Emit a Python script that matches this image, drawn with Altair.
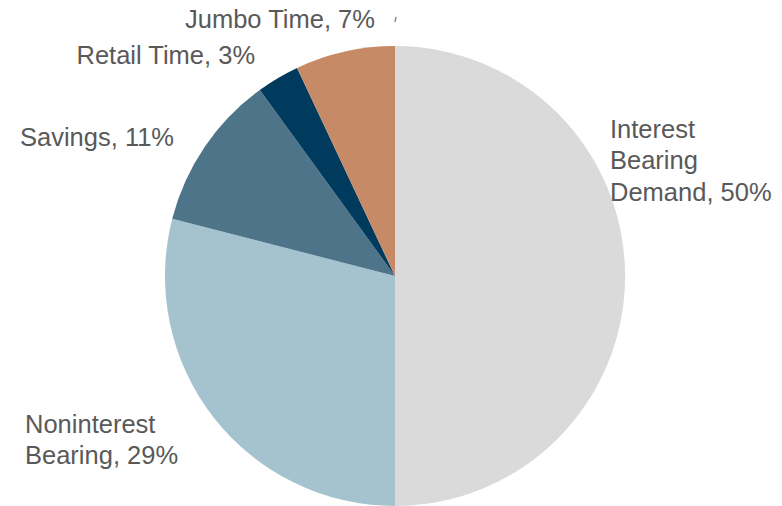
import altair as alt
import pandas as pd

categories = ["Interest Bearing Demand", "Noninterest Bearing", "Savings", "Retail Time", "Jumbo Time"]
shares = [50, 29, 11, 3, 7]
colors = ["#DADADA", "#A5C3CE", "#4E7489", "#003A5D", "#C68B66"]

df = pd.DataFrame({"category": categories, "share": shares, "order": list(range(len(categories)))})

CX, CY, R = 395, 276, 230
TEXT_COLOR = "#595959"
FONT = "Liberation Sans"
FS = 25.5

pie = alt.Chart(df).mark_arc(outerRadius=R).encode(
    theta=alt.Theta("share:Q", stack=True),
    color=alt.Color("category:N", scale=alt.Scale(domain=categories, range=colors), legend=None),
    order=alt.Order("order:Q"),
    x=alt.value(CX),
    y=alt.value(CY),
)

def lbl(i):
    return f"{categories[i]}, {shares[i]}%"

label_specs = [
    (["Interest", "Bearing", f"Demand, {shares[0]}%"], 610, 137.5),
    (["Noninterest", f"Bearing, {shares[1]}%"], 25, 432.5),
    ([lbl(2)], 20, 145.5),
    ([lbl(3)], 76.5, 63.5),
    ([lbl(4)], 185, 27.5),
]

layers = [pie]
for lines, x, y in label_specs:
    layers.append(
        alt.Chart(df.head(1)).mark_text(
            align="left", baseline="alphabetic", font=FONT, fontSize=FS,
            color=TEXT_COLOR, lineHeight=31.5,
        ).encode(x=alt.value(x), y=alt.value(y), text=alt.value(lines))
    )

tick = alt.Chart(df.head(1)).mark_rule(color="#8C8C8C", strokeWidth=1.5).encode(
    x=alt.value(396), x2=alt.value(395), y=alt.value(17), y2=alt.value(22)
)
layers.append(tick)

chart = alt.layer(*layers).properties(
    width=782, height=506, autosize=alt.AutoSizeParams(type="none"), padding=0,
    background="white",
).configure_view(stroke=None)

chart.save("out.html", embed_options={"renderer": "svg", "actions": False})
